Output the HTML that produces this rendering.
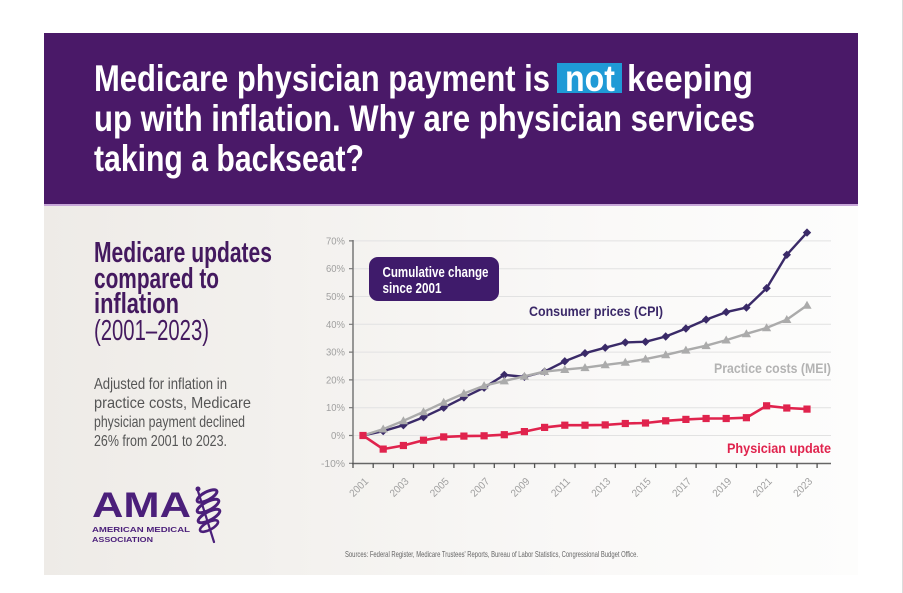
<!DOCTYPE html>
<html>
<head>
<meta charset="utf-8">
<style>
  html,body{margin:0;padding:0;background:#ffffff;}
  body{width:903px;height:593px;overflow:hidden;}
  svg{display:block;}
  .n{font-family:"Liberation Sans Narrow","Liberation Sans",sans-serif;}
  .w{font-family:"Liberation Sans",sans-serif;}
</style>
</head>
<body>
<svg width="903" height="593" viewBox="0 0 903 593" xmlns="http://www.w3.org/2000/svg">
  <defs>
    <linearGradient id="bg" x1="0" y1="0" x2="1" y2="0">
      <stop offset="0" stop-color="#eeebe7"/>
      <stop offset="0.3" stop-color="#f3f1ee"/>
      <stop offset="0.7" stop-color="#faf9f8"/>
      <stop offset="1" stop-color="#fdfdfc"/>
    </linearGradient>
    <path id="dm" d="M0,-4.2 L4.2,0 L0,4.2 L-4.2,0Z" fill="#3a2a68"/>
    <path id="tr" d="M0,-4.6 L4.6,3.4 L-4.6,3.4Z" fill="#ababab"/>
    <rect id="sq" x="-3.6" y="-3.6" width="7.2" height="7.2" fill="#e0234d"/>
  </defs>

  <rect x="0" y="0" width="903" height="593" fill="#ffffff"/>
  <line x1="902.5" y1="0" x2="902.5" y2="593" stroke="#dcdcdc" stroke-width="1"/>

  <rect x="44" y="205" width="814" height="370" fill="url(#bg)"/>
  <rect x="44" y="33" width="814" height="172" fill="#4a1968"/>
  <rect x="44" y="204" width="814" height="2" fill="#c7a6d8"/>

  <rect x="557" y="63" width="65" height="30" fill="#1f9ad6"/>
  <g class="n" font-weight="bold" font-size="37" fill="#ffffff">
    <text x="94" y="91" textLength="456" lengthAdjust="spacingAndGlyphs">Medicare physician payment is</text>
    <text x="565" y="91" textLength="50" lengthAdjust="spacingAndGlyphs">not</text>
    <text x="627" y="91" textLength="126" lengthAdjust="spacingAndGlyphs">keeping</text>
    <text x="94" y="131" textLength="661" lengthAdjust="spacingAndGlyphs">up with inflation. Why are physician services</text>
    <text x="94" y="171" textLength="270" lengthAdjust="spacingAndGlyphs">taking a backseat?</text>
  </g>

  <g class="n" font-size="29" fill="#44195f">
    <text x="94" y="262" font-weight="bold" textLength="178" lengthAdjust="spacingAndGlyphs">Medicare updates</text>
    <text x="94" y="288" font-weight="bold" textLength="125" lengthAdjust="spacingAndGlyphs">compared to</text>
    <text x="94" y="313" font-weight="bold" textLength="85" lengthAdjust="spacingAndGlyphs">inflation</text>
    <text x="94" y="340" textLength="115" lengthAdjust="spacingAndGlyphs">(2001–2023)</text>
  </g>
  <g class="n" font-size="16" fill="#555555">
    <text x="94" y="389" textLength="133" lengthAdjust="spacingAndGlyphs">Adjusted for inflation in</text>
    <text x="94" y="408" textLength="157" lengthAdjust="spacingAndGlyphs">practice costs, Medicare</text>
    <text x="94" y="427" textLength="151" lengthAdjust="spacingAndGlyphs">physician payment declined</text>
    <text x="94" y="446" textLength="133" lengthAdjust="spacingAndGlyphs">26% from 2001 to 2023.</text>
  </g>

  <g fill="#4b1f7a" class="w" font-weight="900">
    <text x="92" y="517" font-size="35" font-weight="bold" textLength="99" lengthAdjust="spacingAndGlyphs">AMA</text>
    <text x="92" y="532" font-size="7" font-weight="bold" textLength="98" lengthAdjust="spacingAndGlyphs">AMERICAN MEDICAL</text>
    <text x="92" y="542" font-size="7" font-weight="bold" textLength="61" lengthAdjust="spacingAndGlyphs">ASSOCIATION</text>
  </g>
  <g stroke="#4b1f7a" fill="none" stroke-linecap="round">
    <line x1="197" y1="488" x2="214" y2="542" stroke-width="2.2"/>
    <ellipse cx="207" cy="496" rx="11" ry="4" transform="rotate(-28 207 496)" stroke-width="3"/>
    <ellipse cx="208" cy="506" rx="12" ry="4.2" transform="rotate(-28 208 506)" stroke-width="3"/>
    <ellipse cx="209" cy="516" rx="12" ry="4.2" transform="rotate(-28 209 516)" stroke-width="3"/>
    <ellipse cx="209" cy="526" rx="10" ry="3.8" transform="rotate(-28 209 526)" stroke-width="2.6"/>
  </g>
  <circle cx="198" cy="489" r="2.5" fill="#4b1f7a"/>

  <g stroke="#e2e2e2" stroke-width="1">
    <line x1="353" y1="240.9" x2="831" y2="240.9"/>
    <line x1="353" y1="268.7" x2="831" y2="268.7"/>
    <line x1="353" y1="296.5" x2="831" y2="296.5"/>
    <line x1="353" y1="324.3" x2="831" y2="324.3"/>
    <line x1="353" y1="352.1" x2="831" y2="352.1"/>
    <line x1="353" y1="379.9" x2="831" y2="379.9"/>
    <line x1="353" y1="407.7" x2="831" y2="407.7"/>
    <line x1="353" y1="435.5" x2="831" y2="435.5"/>
  </g>
  <path d="M349,240.9H353M349,268.7H353M349,296.5H353M349,324.3H353M349,352.1H353M349,379.9H353M349,407.7H353M349,435.5H353M349,463.3H353" stroke="#777" stroke-width="1.2"/>
  <line x1="353" y1="240" x2="353" y2="464" stroke="#777" stroke-width="1.5"/>
  <line x1="352" y1="463.5" x2="831" y2="463.5" stroke="#666" stroke-width="1.6"/>
  <path d="M353,463V468M373.2,463V468M393.4,463V468M413.5,463V468M433.7,463V468M453.9,463V468M474.1,463V468M494.3,463V468M514.4,463V468M534.6,463V468M554.8,463V468M575,463V468M595.2,463V468M615.3,463V468M635.5,463V468M655.7,463V468M675.9,463V468M696.1,463V468M716.2,463V468M736.4,463V468M756.6,463V468M776.8,463V468M797,463V468M817.1,463V468" stroke="#555" stroke-width="1.3"/>

  <g class="n" font-size="10.5" fill="#a0a0a0" text-anchor="end">
    <text x="345" y="244.4" textLength="19" lengthAdjust="spacingAndGlyphs">70%</text>
    <text x="345" y="272.2" textLength="19" lengthAdjust="spacingAndGlyphs">60%</text>
    <text x="345" y="300" textLength="19" lengthAdjust="spacingAndGlyphs">50%</text>
    <text x="345" y="327.8" textLength="19" lengthAdjust="spacingAndGlyphs">40%</text>
    <text x="345" y="355.6" textLength="19" lengthAdjust="spacingAndGlyphs">30%</text>
    <text x="345" y="383.4" textLength="19" lengthAdjust="spacingAndGlyphs">20%</text>
    <text x="345" y="411.2" textLength="19" lengthAdjust="spacingAndGlyphs">10%</text>
    <text x="345" y="439" textLength="14" lengthAdjust="spacingAndGlyphs">0%</text>
    <text x="345" y="466.8" textLength="24" lengthAdjust="spacingAndGlyphs">-10%</text>
  </g>

  <g class="n" font-size="10.5" fill="#a0a0a0" text-anchor="end">
    <text transform="translate(369,482) rotate(-45)" textLength="22" lengthAdjust="spacingAndGlyphs">2001</text>
    <text transform="translate(409.4,482) rotate(-45)" textLength="22" lengthAdjust="spacingAndGlyphs">2003</text>
    <text transform="translate(449.7,482) rotate(-45)" textLength="22" lengthAdjust="spacingAndGlyphs">2005</text>
    <text transform="translate(490.1,482) rotate(-45)" textLength="22" lengthAdjust="spacingAndGlyphs">2007</text>
    <text transform="translate(530.4,482) rotate(-45)" textLength="22" lengthAdjust="spacingAndGlyphs">2009</text>
    <text transform="translate(570.8,482) rotate(-45)" textLength="22" lengthAdjust="spacingAndGlyphs">2011</text>
    <text transform="translate(611.2,482) rotate(-45)" textLength="22" lengthAdjust="spacingAndGlyphs">2013</text>
    <text transform="translate(651.5,482) rotate(-45)" textLength="22" lengthAdjust="spacingAndGlyphs">2015</text>
    <text transform="translate(691.9,482) rotate(-45)" textLength="22" lengthAdjust="spacingAndGlyphs">2017</text>
    <text transform="translate(732.2,482) rotate(-45)" textLength="22" lengthAdjust="spacingAndGlyphs">2019</text>
    <text transform="translate(772.6,482) rotate(-45)" textLength="22" lengthAdjust="spacingAndGlyphs">2021</text>
    <text transform="translate(813,482) rotate(-45)" textLength="22" lengthAdjust="spacingAndGlyphs">2023</text>
  </g>

  <polyline fill="none" stroke="#3a2a68" stroke-width="2.4" stroke-linejoin="round"
    points="363,435.5 383.2,431.1 403.4,425.2 423.5,417.2 443.7,407.7 463.9,397.4 484.1,387.7 504.3,374.9 524.4,376.8 544.6,371.6 564.8,361.3 585,353.2 605.2,347.7 625.3,342.4 645.5,341.8 665.7,336.5 685.9,328.5 706.1,319.6 726.2,312.1 746.4,307.6 766.6,288.2 786.8,254.8 807,232.6"/>
  <g>
    <use href="#dm" x="383.2" y="431.1"/><use href="#dm" x="403.4" y="425.2"/><use href="#dm" x="423.5" y="417.2"/><use href="#dm" x="443.7" y="407.7"/><use href="#dm" x="463.9" y="397.4"/><use href="#dm" x="484.1" y="387.7"/><use href="#dm" x="504.3" y="374.9"/><use href="#dm" x="524.4" y="376.8"/><use href="#dm" x="544.6" y="371.6"/><use href="#dm" x="564.8" y="361.3"/><use href="#dm" x="585" y="353.2"/><use href="#dm" x="605.2" y="347.7"/><use href="#dm" x="625.3" y="342.4"/><use href="#dm" x="645.5" y="341.8"/><use href="#dm" x="665.7" y="336.5"/><use href="#dm" x="685.9" y="328.5"/><use href="#dm" x="706.1" y="319.6"/><use href="#dm" x="726.2" y="312.1"/><use href="#dm" x="746.4" y="307.6"/><use href="#dm" x="766.6" y="288.2"/><use href="#dm" x="786.8" y="254.8"/><use href="#dm" x="807" y="232.6"/>
  </g>

  <polyline fill="none" stroke="#ababab" stroke-width="2.4" stroke-linejoin="round"
    points="363,435.5 383.2,429.1 403.4,420.8 423.5,411.9 443.7,402.4 463.9,393.5 484.1,385.7 504.3,381 524.4,376.3 544.6,371.6 564.8,369.6 585,367.7 605.2,364.9 625.3,362.4 645.5,359.1 665.7,354.9 685.9,350.2 706.1,345.7 726.2,340.1 746.4,333.8 766.6,327.9 786.8,319.6 807,305.4"/>
  <g>
    <use href="#tr" x="383.2" y="429.1"/><use href="#tr" x="403.4" y="420.8"/><use href="#tr" x="423.5" y="411.9"/><use href="#tr" x="443.7" y="402.4"/><use href="#tr" x="463.9" y="393.5"/><use href="#tr" x="484.1" y="385.7"/><use href="#tr" x="504.3" y="381"/><use href="#tr" x="524.4" y="376.3"/><use href="#tr" x="544.6" y="371.6"/><use href="#tr" x="564.8" y="369.6"/><use href="#tr" x="585" y="367.7"/><use href="#tr" x="605.2" y="364.9"/><use href="#tr" x="625.3" y="362.4"/><use href="#tr" x="645.5" y="359.1"/><use href="#tr" x="665.7" y="354.9"/><use href="#tr" x="685.9" y="350.2"/><use href="#tr" x="706.1" y="345.7"/><use href="#tr" x="726.2" y="340.1"/><use href="#tr" x="746.4" y="333.8"/><use href="#tr" x="766.6" y="327.9"/><use href="#tr" x="786.8" y="319.6"/><use href="#tr" x="807" y="305.4"/>
  </g>

  <polyline fill="none" stroke="#e0234d" stroke-width="2.6" stroke-linejoin="round"
    points="363,435.5 383.2,449.1 403.4,445.5 423.5,440.2 443.7,436.9 463.9,436.1 484.1,435.8 504.3,434.7 524.4,431.6 544.6,427.4 564.8,425.2 585,425.2 605.2,424.9 625.3,423.5 645.5,423 665.7,420.8 685.9,419.4 706.1,418.5 726.2,418.5 746.4,417.7 766.6,405.8 786.8,408 807,409.1"/>
  <g>
    <use href="#sq" x="363" y="435.5"/><use href="#sq" x="383.2" y="449.1"/><use href="#sq" x="403.4" y="445.5"/><use href="#sq" x="423.5" y="440.2"/><use href="#sq" x="443.7" y="436.9"/><use href="#sq" x="463.9" y="436.1"/><use href="#sq" x="484.1" y="435.8"/><use href="#sq" x="504.3" y="434.7"/><use href="#sq" x="524.4" y="431.6"/><use href="#sq" x="544.6" y="427.4"/><use href="#sq" x="564.8" y="425.2"/><use href="#sq" x="585" y="425.2"/><use href="#sq" x="605.2" y="424.9"/><use href="#sq" x="625.3" y="423.5"/><use href="#sq" x="645.5" y="423"/><use href="#sq" x="665.7" y="420.8"/><use href="#sq" x="685.9" y="419.4"/><use href="#sq" x="706.1" y="418.5"/><use href="#sq" x="726.2" y="418.5"/><use href="#sq" x="746.4" y="417.7"/><use href="#sq" x="766.6" y="405.8"/><use href="#sq" x="786.8" y="408"/><use href="#sq" x="807" y="409.1"/>
  </g>

  <g class="n" font-weight="bold" font-size="14">
    <text x="529" y="316" fill="#3a2868" textLength="134" lengthAdjust="spacingAndGlyphs">Consumer prices (CPI)</text>
    <text x="714" y="373" fill="#b3b3b3" textLength="117" lengthAdjust="spacingAndGlyphs">Practice costs (MEI)</text>
    <text x="727" y="453" fill="#e0234d" textLength="104" lengthAdjust="spacingAndGlyphs">Physician update</text>
  </g>

  <rect x="369" y="257" width="130" height="44" rx="9" ry="9" fill="#3f1b6b"/>
  <g class="n" font-weight="bold" font-size="15" fill="#ffffff">
    <text x="382.5" y="277" textLength="106" lengthAdjust="spacingAndGlyphs">Cumulative change</text>
    <text x="382.5" y="293" textLength="59" lengthAdjust="spacingAndGlyphs">since 2001</text>
  </g>

  <text class="n" x="345" y="557" font-size="8.5" fill="#666666" textLength="293" lengthAdjust="spacingAndGlyphs">Sources: Federal Register, Medicare Trustees' Reports, Bureau of Labor Statistics, Congressional Budget Office.</text>
</svg>
</body>
</html>
